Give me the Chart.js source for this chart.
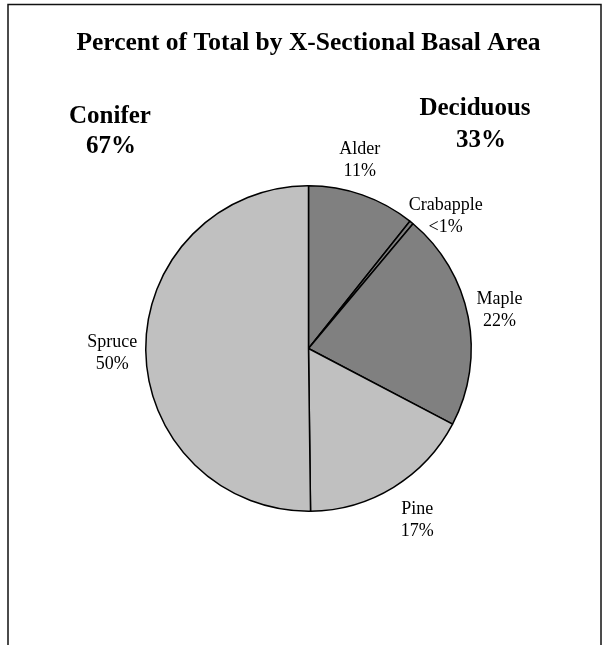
<!DOCTYPE html>
<html>
<head>
<meta charset="utf-8">
<title>Percent of Total by X-Sectional Basal Area</title>
<script src="https://cdn.jsdelivr.net/npm/chart.js@4"></script>
<style>
  html, body { margin: 0; padding: 0; background: #fff; }
  canvas { display: block; }
</style>
</head>
<body>
<canvas id="basalChart" width="610" height="645"></canvas>
<script>
// species share of total cross-sectional basal area (%)
const species = ["Alder", "Crabapple", "Maple", "Pine", "Spruce"];
const basalShare = [10.7, 0.4, 21.6, 17.1, 50.2];
const groupNames = ["Conifer", "Deciduous"];
const groupShare = ["67%", "33%"];

const DARK = "#808080";
const LIGHT = "#c0c0c0";
const serif = "'Liberation Serif', 'Times New Roman', serif";

function pctText(v) {
  return v < 1 ? "<1%" : Math.round(v) + "%";
}

// frame round the whole plot
const framePlugin = {
  id: "frame",
  beforeDraw(chart) {
    const ctx = chart.ctx;
    ctx.save();
    ctx.fillStyle = "#fff";
    ctx.fillRect(0, 0, chart.width, chart.height);
    ctx.strokeStyle = "#111";
    ctx.lineWidth = 1.5;
    ctx.strokeRect(8, 4.5, 593, 700);
    ctx.restore();
  }
};

// title and the two group headings
const headingPlugin = {
  id: "headings",
  afterDraw(chart) {
    const ctx = chart.ctx;
    ctx.save();
    ctx.fillStyle = "#000";
    ctx.textAlign = "center";
    ctx.textBaseline = "alphabetic";
    ctx.font = "bold 25.5px " + serif;
    ctx.fillText("Percent of Total by X-Sectional Basal Area", 308.5, 50);
    ctx.font = "bold 25px " + serif;
    ctx.fillText(groupNames[0], 110, 123);
    ctx.fillText(groupShare[0], 111, 153);
    ctx.fillText(groupNames[1], 475, 115);
    ctx.fillText(groupShare[1], 481, 147);
    ctx.restore();
  }
};

// category name + percent placed outside each slice
const sliceLabelPlugin = {
  id: "sliceLabels",
  afterDatasetsDraw(chart, args, opts) {
    const ctx = chart.ctx;
    const arcs = chart.getDatasetMeta(0).data;
    const values = chart.data.datasets[0].data;
    ctx.save();
    ctx.fillStyle = "#000";
    ctx.font = "18px " + serif;
    ctx.textAlign = "center";
    ctx.textBaseline = "alphabetic";
    arcs.forEach((arc, i) => {
      const mid = (arc.startAngle + arc.endAngle) / 2;
      const r = arc.outerRadius + opts.gap;
      const nudge = opts.nudge[i] || [0, 0];
      const cx = arc.x + Math.cos(mid) * r + nudge[0];
      const cy = arc.y + Math.sin(mid) * r + nudge[1];
      ctx.fillText(species[i], cx, cy - 11);
      ctx.fillText(pctText(values[i]), cx, cy + 11);
    });
    ctx.restore();
  }
};

new Chart(document.getElementById("basalChart"), {
  type: "pie",
  data: {
    labels: species,
    datasets: [{
      data: basalShare,
      backgroundColor: [DARK, DARK, DARK, LIGHT, LIGHT],
      borderColor: "#000",
      borderWidth: 1.5
    }]
  },
  options: {
    responsive: false,
    animation: false,
    layout: { padding: { left: 145, right: 138, top: 185, bottom: 133 } },
    plugins: {
      legend: { display: false },
      tooltip: { enabled: false },
      sliceLabels: {
        gap: 32,
        nudge: [[-13, 0], [14, 23], [0, 4], [7, 10], [-1.5, 8]]
      }
    }
  },
  plugins: [framePlugin, headingPlugin, sliceLabelPlugin]
});
</script>
</body>
</html>
